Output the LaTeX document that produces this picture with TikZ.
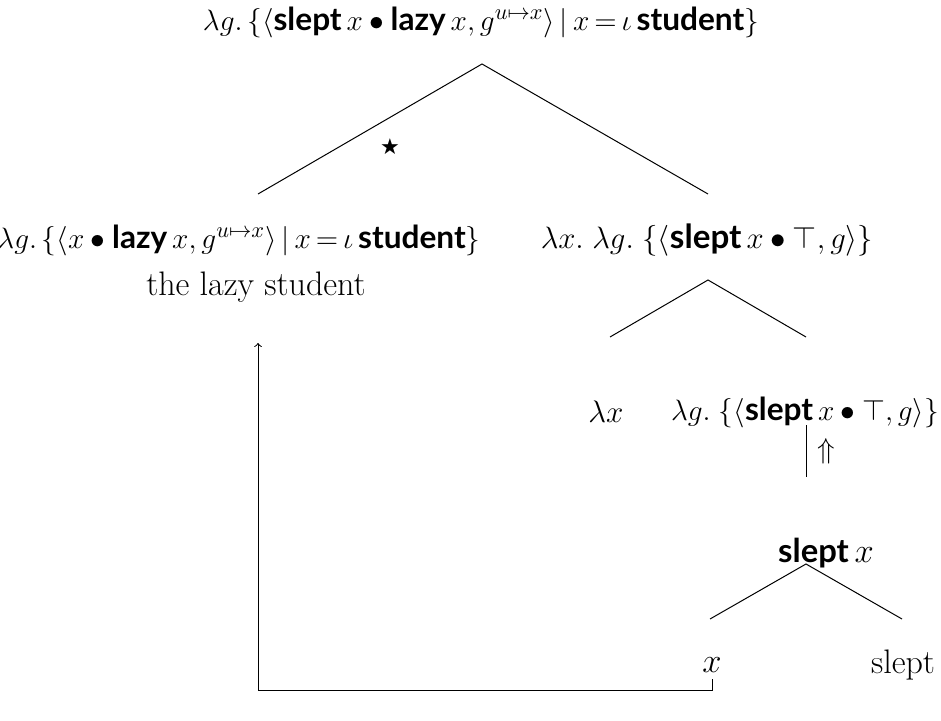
\documentclass[tikz,border=0pt]{standalone}
\usepackage{amsmath,amssymb,graphicx}
\usepackage{fontspec}
\newfontfamily\bsf{Lato}[UprightFont=* Bold]
\newfontfamily\djv{DejaVu Sans}
\newcommand{\bw}[1]{\text{\bsf #1}}
\begin{document}
\begin{tikzpicture}[x=0.5pt,y=-0.5pt,
  lbl/.style={inner sep=0pt, font=\fontsize{15.5}{18}\selectfont},
  lblbig/.style={inner sep=0pt, font=\fontsize{16.4}{19}\selectfont},
  word/.style={inner sep=0pt, font=\fontsize{17}{20}\selectfont},
  branch/.style={line width=0.5pt},
  conn/.style={line width=0.5pt}]
\useasboundingbox (0,0) rectangle (941,721);
% labels
\node[lbl] (top) at (481,22) {\scalebox{1.02}{$\lambda g.\,\{\langle \bw{slept}\,x \bullet \bw{lazy}\,x, g^{u\mapsto x}\rangle \,|\, x \mathrel{\mkern-2mu=\mkern-2mu} \iota\,\bw{student}\}$}};
\node[lbl] (left) at (239,240) {\scalebox{1.02}{$\lambda g.\,\{\langle x \bullet \bw{lazy}\,x, g^{u\mapsto x}\rangle \,|\, x \mathrel{\mkern-2mu=\mkern-2mu} \iota\,\bw{student}\}$}};
\node[lbl] (right) at (707,240) {\scalebox{1.07}{$\lambda x.\;\lambda g.\;\{\langle \bw{slept}\,x \bullet \top, g\rangle\}$}};
\node[word] (lazy) at (256,287) {the lazy student};
\node[lbl] (lx) at (606,412) {\scalebox{1.08}{$\lambda x$}};
\node[lbl] (lg) at (805,412) {\scalebox{1.02}{$\lambda g.\;\{\langle \bw{slept}\,x \bullet \top, g\rangle\}$}};
\node[lbl] (up) at (826,451) {$\Uparrow$};
\node[lblbig] (sx) at (826,553) {$\bw{slept}\,x$};
\node[lblbig] (xv) at (712,665) {$x$};
\node[word] (sl) at (903,665) {slept};
\node[inner sep=0pt, font=\djv\fontsize{11}{12}\selectfont] (star) at (390,147) {★};
% tree coordinates
\coordinate (a1) at (482,64);
\coordinate (l1) at (258,194);
\coordinate (r1) at (708,194);
\coordinate (a2) at (708,280);
\coordinate (l2) at (610,337);
\coordinate (r2) at (806,337);
\coordinate (v1) at (806,425);
\coordinate (v2) at (806,477);
\coordinate (a3) at (806,564);
\coordinate (l3) at (710,619);
\coordinate (r3) at (902,619);
\draw[branch] (l1) -- (a1) -- (r1);
\draw[branch] (l2) -- (a2) -- (r2);
\draw[branch] (v1) -- (v2);
\draw[branch] (l3) -- (a3) -- (r3);
% movement connector
\coordinate (xs) at (712,679);
\coordinate (bend) at (258,690);
\coordinate (tip) at (258,343);
\draw[conn,->] (xs) -- (xs |- bend) -- (bend) -- (tip);
\end{tikzpicture}
\end{document}
